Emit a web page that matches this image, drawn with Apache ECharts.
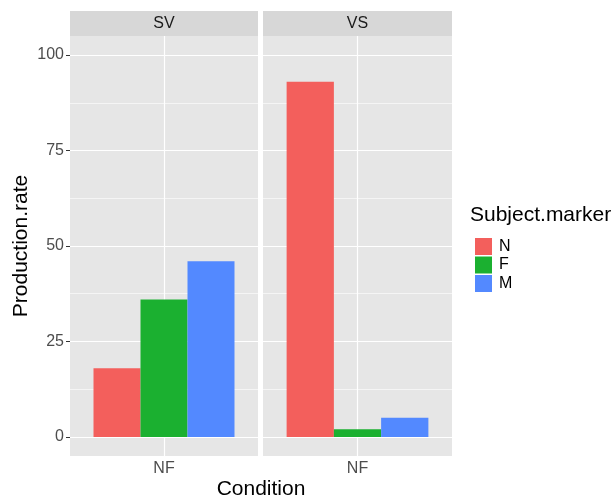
<!DOCTYPE html>
<html>
<head>
<meta charset="utf-8">
<script src="https://cdn.jsdelivr.net/npm/echarts@6/dist/echarts.min.js"></script>
<style>
  html, body { margin: 0; padding: 0; background: #fff; }
  #chart { width: 615px; height: 499px; }
</style>
</head>
<body>
<div id="chart"></div>
<script>
// data
var facets = ['SV', 'VS'];
var conditions = ['NF'];
var markers = ['N', 'F', 'M'];
var svRates = [18, 36, 46];
var vsRates = [93, 2, 5];
var yMajor = [0, 25, 50, 75, 100];
var yMinor = [12.5, 37.5, 62.5, 87.5];

var colors = ['#F35F5C', '#1BB030', '#5389FF'];
var font = 'Liberation Sans, Arial, sans-serif';

// panel layout (ggplot facets)
var panelTop = 36, panelHeight = 420, stripHeight = 25;
var panels = [{left: 70, width: 188}, {left: 263, width: 189}];

var chart = echarts.init(document.getElementById('chart'));

var grids = [], xAxes = [], yAxes = [], series = [], graphics = [];

panels.forEach(function (p, i) {
    grids.push({
        left: p.left, top: panelTop, width: p.width, height: panelHeight,
        show: true, backgroundColor: '#E6E6E6', borderWidth: 0
    });

    // strip on top of each panel
    graphics.push({
        type: 'rect',
        shape: {x: p.left, y: panelTop - stripHeight, width: p.width, height: stripHeight},
        style: {fill: '#D7D7D7'}
    });
    graphics.push({
        type: 'text',
        x: p.left + p.width / 2, y: panelTop - stripHeight / 2,
        style: {text: facets[i], fill: '#1A1A1A', font: '16px ' + font, align: 'center', verticalAlign: 'middle'}
    });

    // category axis with label and tick
    xAxes.push({
        gridIndex: i, type: 'category', data: conditions,
        axisLine: {show: false},
        axisTick: {alignWithLabel: true, length: 4, lineStyle: {color: '#333'}},
        axisLabel: {color: '#4D4D4D', fontSize: 16, fontFamily: font, margin: 5},
        splitLine: {show: false}
    });

    // main y axis: labels + major grid
    yAxes.push({
        gridIndex: i, type: 'value', min: -5, max: 105,
        axisLine: {show: false},
        axisTick: {show: i === 0, length: 4, lineStyle: {color: '#333'}, customValues: yMajor},
        axisLabel: {show: i === 0, color: '#4D4D4D', fontSize: 16, fontFamily: font, margin: 6, customValues: yMajor},
        splitLine: {show: true, lineStyle: {color: '#FFFFFF', width: 1.2}},
        name: i === 0 ? 'Production.rate' : '',
        nameLocation: 'middle', nameRotate: 90, nameGap: 38,
        nameTextStyle: {color: '#000', fontSize: 21, fontFamily: font}
    });
});

// hidden helper axes for minor horizontal lines and the vertical major line
panels.forEach(function (p, i) {
    yAxes.push({
        gridIndex: i, type: 'value', min: -5, max: 105, position: 'left',
        axisLine: {show: false},
        axisTick: {show: false, customValues: yMinor},
        axisLabel: {show: false, customValues: yMinor},
        splitLine: {show: true, lineStyle: {color: '#FFFFFF', width: 0.6}}
    });
    xAxes.push({
        gridIndex: i, type: 'value', min: 0.4, max: 1.6,
        axisLine: {show: false},
        axisTick: {show: false, customValues: [1]},
        axisLabel: {show: false, customValues: [1]},
        splitLine: {show: true, lineStyle: {color: '#FFFFFF', width: 1.2}}
    });
});

[svRates, vsRates].forEach(function (rates, i) {
    markers.forEach(function (m, k) {
        series.push({
            name: m, type: 'bar',
            xAxisIndex: i, yAxisIndex: i,
            barGap: 0, barCategoryGap: '25%',
            itemStyle: {color: colors[k]},
            data: [rates[k]]
        });
    });
});

// legend title and x axis title
graphics.push({
    type: 'text', x: 470, y: 215,
    style: {text: 'Subject.marker', fill: '#000', font: '21px ' + font, verticalAlign: 'middle'}
});
graphics.push({
    type: 'text', x: (panels[0].left + panels[1].left + panels[1].width) / 2, y: 489,
    style: {text: 'Condition', fill: '#000', font: '21px ' + font, align: 'center', verticalAlign: 'middle'}
});

var option = {
    animation: false,
    color: colors,
    grid: grids,
    xAxis: xAxes,
    yAxis: yAxes,
    legend: {
        data: markers,
        orient: 'vertical',
        left: 470, top: 233,
        icon: 'rect',
        itemWidth: 17, itemHeight: 17, itemGap: 1.5,
        textStyle: {color: '#000', fontSize: 16, fontFamily: font, padding: [0, 0, 0, 2]}
    },
    graphic: graphics,
    series: series
};

chart.setOption(option);
</script>
</body>
</html>
